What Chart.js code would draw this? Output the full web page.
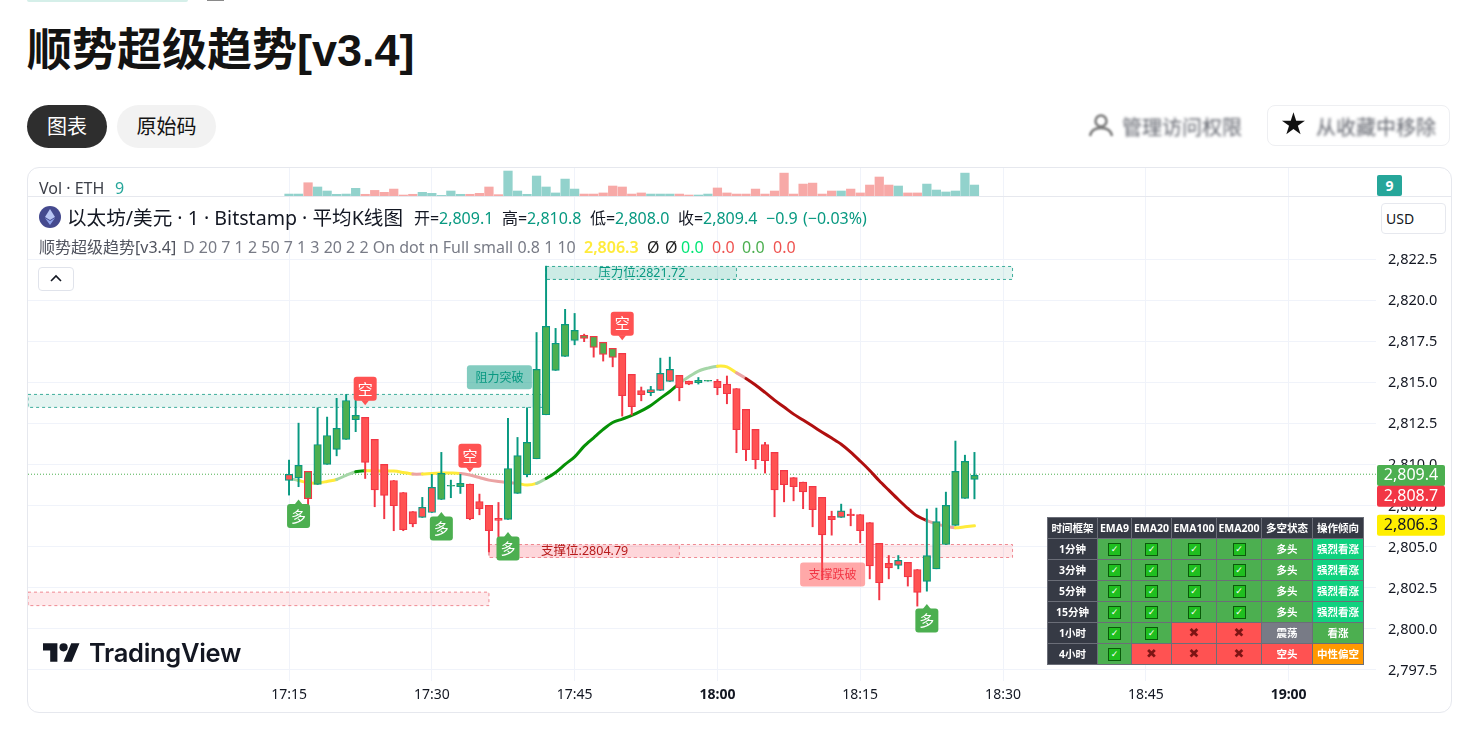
<!DOCTYPE html>
<html lang="zh">
<head>
<meta charset="utf-8">
<title>顺势超级趋势[v3.4]</title>
<script src="https://cdn.jsdelivr.net/npm/chart.js@4/dist/chart.umd.min.js"></script>
<style>
html, body { margin: 0; padding: 0; background: #fff; width: 1472px; height: 733px; overflow: hidden; }
body { position: relative; font-family: "Noto Sans", "Noto Sans CJK SC", sans-serif; color: #131722; }
.abs { position: absolute; white-space: nowrap; }
.pill { position: absolute; top: 105px; height: 43px; line-height: 44px; border-radius: 22px; text-align: center; font-size: 20px; }
.blurred { filter: blur(1.6px); color: #5f626b; font-size: 20px; }
#panel { position: absolute; left: 27px; top: 167px; width: 1423px; height: 544px; border: 1px solid #e6e8ee; border-radius: 12px; box-sizing: content-box; }
.row2 { font-size: 16px; line-height: 22px; top: 207px; }
.row3 { font-size: 16px; line-height: 20px; top: 237px; }
.teal { color: #089981; }
#signalTable { position: absolute; left: 1047px; top: 517px; border-collapse: collapse; table-layout: fixed; width: 316px; height: 146px; font-size: 10.5px; font-weight: 700; color: #fff; text-align: center; }
#signalTable td { border: 1px solid #6b6e78; padding: 0; height: 20px; line-height: 14px; overflow: hidden; }
.chk { display: inline-block; width: 11px; height: 11px; background: #1fbf1f; border: 1px solid #0a5a0a; color: #fff; font: 700 9px/11px "DejaVu Sans"; vertical-align: middle; }
.crs { color: #7d1414; font: 700 13px/14px "DejaVu Sans"; }
</style>
</head>
<body>
<div class="abs" style="left:27px;top:0;width:161px;height:2px;background:#d5efe9;border-radius:0 0 6px 6px"></div>
<div class="abs" style="left:207px;top:0;width:17px;height:1px;background:#8a8a8a"></div>
<div class="abs" style="left:27px;top:20px;font:700 45px/62px 'Liberation Sans','Noto Sans CJK SC';color:#131313">顺势超级趋势[v3.4]</div>
<div class="pill" style="left:27px;width:80px;background:#2e2e2e;color:#fff">图表</div>
<div class="pill" style="left:117px;width:99px;background:#f2f2f2;color:#131313">原始码</div>

<svg class="abs" style="left:1088px;top:114px;filter:blur(0.8px)" width="26" height="24" viewBox="0 0 26 24"><circle cx="13" cy="7" r="5.5" fill="none" stroke="#777" stroke-width="2.5"/><path d="M2 22c1-6 5-8 11-8s10 2 11 8" fill="none" stroke="#777" stroke-width="2.5"/></svg>
<div class="abs blurred" style="left:1122px;top:112px">管理访问权限</div>
<div class="abs" style="left:1267px;top:105px;width:183px;height:41px;border:1px solid #eeeff2;border-radius:8px;box-sizing:border-box"></div>
<div class="abs" style="left:1280px;top:106px;font:30px/36px 'DejaVu Sans';color:#111;filter:blur(0.7px)">★</div>
<div class="abs blurred" style="left:1316px;top:112px">从收藏中移除</div>

<div id="panel"></div>
<canvas id="volumeChart" class="abs" style="left:28px;top:168px;width:1423px;height:28px"></canvas>
<canvas id="priceChart" class="abs" style="left:28px;top:197px;width:1423px;height:514px"></canvas>
<div class="abs" style="left:28px;top:196px;width:1423px;height:1px;background:#e6e8ee"></div>

<div class="abs" style="left:39px;top:178px;font-size:16px;line-height:20px;color:#3c3f48">Vol · ETH</div>
<div class="abs" style="left:115px;top:178px;font-size:16px;line-height:20px;color:#26a69a">9</div>
<div class="abs" style="left:1377px;top:175px;width:25px;height:21px;background:#26a69a;color:#fff;font:700 14px/21px 'Noto Sans';text-align:center;border-radius:2px">9</div>

<svg class="abs" style="left:39px;top:206px" width="22" height="22" viewBox="0 0 22 22"><circle cx="11" cy="11" r="11" fill="#454a8f"/><path d="M11 3l5 8-5 3-5-3z" fill="#b9c6f5"/><path d="M11 15l5-3-5 7-5-7z" fill="#8fa3ea"/></svg>
<div class="abs" style="left:67px;top:205px;font-size:19.6px;line-height:25px;color:#131722">以太坊/美元 · 1 · Bitstamp · 平均K线图</div>
<div class="abs row2" style="left:414px">开=</div><div class="abs row2 teal" style="left:439px">2,809.1</div>
<div class="abs row2" style="left:502px">高=</div><div class="abs row2 teal" style="left:527px">2,810.8</div>
<div class="abs row2" style="left:590px">低=</div><div class="abs row2 teal" style="left:615px">2,808.0</div>
<div class="abs row2" style="left:678px">收=</div><div class="abs row2 teal" style="left:703px">2,809.4</div>
<div class="abs row2 teal" style="left:766px">−0.9</div><div class="abs row2 teal" style="left:803px">(−0.03%)</div>

<div class="abs row3" style="left:39px;color:#50535e">顺势超级趋势[v3.4]</div>
<div class="abs row3" style="left:183px;color:#787b86">D 20 7 1 2 50 7 1 3 20 2 2 On dot n Full small 0.8 1 10</div>
<div class="abs row3" style="left:584px;color:#ffeb3b;font-weight:600">2,806.3</div>
<div class="abs row3" style="left:647px;color:#222">Ø</div><div class="abs row3" style="left:665px;color:#222">Ø</div>
<div class="abs row3" style="left:681px;color:#00e676">0.0</div><div class="abs row3" style="left:712px;color:#ef5350">0.0</div>
<div class="abs row3" style="left:742px;color:#4caf50">0.0</div><div class="abs row3" style="left:773px;color:#ef5350">0.0</div>

<div class="abs" style="left:38px;top:267px;width:36px;height:24px;border:1px solid #e0e3eb;border-radius:4px;box-sizing:border-box;background:#fff">
  <svg width="34" height="22"><path d="M12 13l5-5 5 5" fill="none" stroke="#131722" stroke-width="1.6"/></svg>
</div>
<div class="abs" style="left:1381px;top:203px;width:65px;height:31px;border:1px solid #e6e8ee;border-radius:4px;box-sizing:border-box;background:#fff;font-size:14px;line-height:29px;padding-left:4px">USD</div>

<svg class="abs" style="left:43px;top:642px" width="37" height="22" viewBox="0 3 36 21"><path d="M14 22H7V11H0V4h14v18zM28 22h-8l7.5-18h8L28 22z" fill="#131722"/><circle cx="20" cy="8" r="4" fill="#131722"/></svg>
<div class="abs" style="left:89px;top:634px;font:600 25.5px/38px Inter;letter-spacing:-0.3px;color:#131722">TradingView</div>

<table id="signalTable"></table>

<script>
// chart data
const candleMinutes = [1035,1036,1037,1038,1039,1040,1041,1042,1043,1044,1045,1046,1047,1048,1049,1050,1051,1052,1053,1054,1055,1056,1057,1058,1059,1060,1061,1062,1063,1064,1065,1066,1067,1068,1069,1070,1071,1072,1073,1074,1075,1076,1077,1078,1079,1080,1081,1082,1083,1084,1085,1086,1087,1088,1089,1090,1091,1092,1093,1094,1095,1096,1097,1098,1099,1100,1101,1102,1103,1104,1105,1106,1107];
const candleOpen = [2809.02,2809.18,2809.57,2808.78,2810.0,2810.91,2811.52,2812.72,2812.86,2811.52,2810.0,2809.02,2808.29,2807.13,2806.77,2807.07,2807.86,2808.68,2808.64,2808.8,2807.74,2807.5,2806.71,2806.65,2808.23,2809.37,2810.34,2813.02,2815.72,2816.57,2817.55,2817.85,2817.79,2817.43,2817.06,2816.76,2815.48,2814.5,2814.36,2814.5,2815.05,2815.42,2815.07,2814.97,2815.07,2815.05,2814.89,2814.62,2813.35,2812.13,2811.21,2810.73,2809.63,2809.2,2808.92,2808.66,2807.99,2806.83,2806.77,2806.97,2806.95,2806.46,2805.19,2803.97,2803.85,2804.03,2803.6,2802.87,2803.64,2805.12,2806.28,2807.93,2809.09];
const candleHigh = [2810.26,2812.51,2809.57,2813.45,2812.88,2814.02,2814.26,2814.02,2812.86,2811.52,2810.0,2809.02,2808.29,2807.13,2807.99,2809.39,2810.73,2809.04,2809.39,2808.8,2808.19,2807.5,2807.68,2812.8,2811.64,2813.45,2818.03,2822.07,2818.28,2819.44,2819.19,2817.93,2817.79,2817.43,2817.06,2816.76,2815.48,2814.71,2814.75,2816.47,2816.53,2815.42,2815.07,2815.29,2815.11,2815.17,2815.38,2814.62,2813.35,2812.13,2811.34,2810.73,2809.63,2809.2,2808.92,2808.66,2807.99,2807.15,2807.58,2807.28,2806.95,2806.46,2805.19,2804.45,2804.45,2804.03,2803.6,2807.28,2807.34,2808.31,2811.42,2810.56,2810.73];
const candleLow = [2808.13,2808.64,2806.85,2808.78,2810.0,2810.52,2811.52,2811.99,2809.14,2807.42,2806.69,2805.96,2805.96,2806.2,2806.77,2807.07,2807.86,2807.97,2808.23,2806.63,2806.93,2804.66,2805.59,2806.65,2808.23,2809.24,2810.34,2813.02,2815.72,2816.57,2817.28,2817.47,2816.53,2816.29,2815.94,2812.94,2813.0,2813.87,2814.18,2814.5,2815.05,2813.87,2814.85,2814.89,2815.07,2814.24,2813.69,2810.71,2810.22,2809.73,2809.47,2806.81,2807.72,2807.78,2807.3,2806.2,2802.99,2805.69,2806.77,2806.26,2805.23,2803.03,2801.75,2803.03,2803.64,2802.59,2801.37,2802.28,2803.64,2805.12,2806.28,2807.93,2807.9];
const candleClose = [2809.39,2809.94,2807.91,2811.21,2811.76,2812.19,2813.89,2812.98,2810.12,2808.45,2808.11,2807.48,2806.02,2806.38,2807.38,2808.6,2809.45,2808.72,2808.84,2806.69,2807.3,2805.96,2806.59,2809.75,2810.54,2811.34,2815.78,2818.4,2817.37,2818.52,2818.16,2817.67,2817.12,2816.7,2816.51,2814.18,2813.51,2814.24,2814.56,2815.54,2815.78,2814.67,2814.89,2815.11,2815.11,2814.67,2814.3,2812.11,2810.89,2810.28,2810.22,2808.45,2808.76,2808.64,2808.33,2807.24,2805.71,2806.63,2807.17,2806.87,2805.96,2803.82,2802.79,2803.7,2804.15,2803.15,2802.2,2804.45,2806.52,2807.5,2809.57,2810.18,2809.33];
const candleFill = ['r','g','g','g','g','g','g','g','r','r','r','r','r','r','r','r','g','g','g','r','r','r','r','g','g','g','g','g','g','g','g','g','g','g','g','r','r','r','r','r','r','r','r','g','g','r','r','r','r','r','r','r','r','r','r','r','r','r','r','r','r','r','r','r','r','r','r','g','g','g','g','g','g'];

const volumeValues = [1.6,1.6,10.9,7.4,4.1,1.4,1.6,6.3,1.4,4.6,3,5.7,0.8,1.4,3,2.2,0.5,4.1,1.4,1.4,2.2,7.4,1.1,20.5,4.1,1.4,16.4,7.4,2.5,13.9,5.7,1.6,1.6,2.5,8.2,7.4,1.6,2.5,1.6,1.6,1.6,1.6,0.8,0.8,1.6,6.6,2.5,1.6,1.6,5.7,1.6,4.1,18.8,1.6,9.8,10.6,1.6,4.1,4.1,5.7,2.5,9,15.6,9,8.2,2.5,2.5,9.8,4.9,3.3,4.1,18.8,9];
const volumeUp = [1,1,0,1,1,1,1,1,0,0,0,0,0,0,1,1,1,1,1,0,0,0,0,1,1,1,1,1,1,1,1,0,0,0,0,0,0,0,1,1,1,0,0,1,1,0,0,0,0,0,0,0,0,0,0,0,0,0,1,0,0,0,0,0,1,0,0,1,1,1,1,1,1];

const trendValues = [2809.14,2809.02,2808.88,2808.86,2808.96,2809.08,2809.33,2809.55,2809.61,2809.61,2809.59,2809.59,2809.51,2809.41,2809.41,2809.45,2809.47,2809.47,2809.45,2809.35,2809.2,2809.04,2808.96,2808.9,2808.84,2808.74,2808.84,2809.14,2809.51,2810.0,2810.46,2811.11,2811.62,2812.13,2812.55,2812.76,2812.98,2813.26,2813.59,2814.02,2814.44,2814.93,2815.33,2815.68,2815.86,2815.98,2815.94,2815.58,2815.23,2814.83,2814.38,2813.91,2813.49,2813.06,2812.7,2812.33,2811.96,2811.6,2811.23,2810.75,2810.2,2809.63,2809.0,2808.43,2807.86,2807.32,2806.85,2806.57,2806.38,2806.24,2806.14,2806.2,2806.26];
// state of each segment between two neighbouring trend points
const trendState = ['pg','y','y','y','y','pg','pg','g','y','y','y','y','y','pr','y','y','y','y','pr','pr','pr','pr','pr','pr','y','y','pg','g','g','g','g','g','g','g','g','g','g','g','g','g','g','pg','pg','pg','pg','y','y','pr','r','r','r','r','r','r','r','r','r','r','r','r','r','r','r','r','r','r','r','pr','pr','pr','y','y'];

const priceTicks = [2797.5,2800,2802.5,2805,2807.5,2810,2812.5,2815,2817.5,2820,2822.5];
const timeTicks = [1035,1050,1065,1080,1095,1110,1125,1140];
const timeLabels = ['17:15','17:30','17:45','18:00','18:15','18:30','18:45','19:00'];
const boldTimes = ['18:00','19:00'];
const lastPrice = 2809.4;

// price zones
const zoneStart = [1062,1007.58,1007.58,1056];
const zoneEnd = [1111,1062,1056,1111];
const zoneDarkEnd = [1082,null,null,1076];
const zoneTop = [2822.05,2814.26,2802.22,2805.12];
const zoneBottom = [2821.26,2813.47,2801.4,2804.33];
const zoneKind = ['res','res','sup','sup'];
const zoneText = ['压力位:2821.72','','','支撑位:2804.79'];

// 多 / 空 signal flags
const signalMinute = [1036,1043,1051,1054,1058,1070,1102];
const signalPrice = [2806.85,2814.6,2806.1,2810.52,2804.88,2818.56,2800.5];
const signalText = ['多','空','多','空','多','空','多'];

const breakMinute = [1057.1,1092.1];
const breakPrice = [2815.3,2803.3];
const breakText = ['阻力突破','支撑跌破'];
const breakKind = ['res','sup'];

// tags on the price axis
const tagPrice = [2809.33,2808.7,2806.3];
const tagText = ['2,809.4','2,808.7','2,806.3'];
const tagOffset = [0,10.5,0];
const tagFill = ['#4caf50','#f23645','#ffee00'];
const tagInk = ['#fff','#fff','#131722'];

const tableHead = ['时间框架','EMA9','EMA20','EMA100','EMA200','多空状态','操作倾向'];
const tableFrames = ['1分钟','3分钟','5分钟','15分钟','1小时','4小时'];
const tableEma = [[1,1,1,1],[1,1,1,1],[1,1,1,1],[1,1,1,1],[1,1,0,0],[1,0,0,0]];
const tableState = ['多头','多头','多头','多头','震荡','空头'];
const tableAction = ['强烈看涨','强烈看涨','强烈看涨','强烈看涨','看涨','中性偏空'];

const UP = '#089981', DOWN = '#f23645', FILL_UP = '#4caf50', FILL_DOWN = '#ff5252';
const TREND_COLORS = { y: '#ffeb3b', g: '#069106', r: '#b00f0f', pg: '#a5d6a7', pr: '#eba3a3' };
const X_MIN = 1007.58, X_MAX = 1149.18;
const TICK_FONT = '"Noto Sans", sans-serif';

const isUp = candleOpen.map((o, i) => candleClose[i] >= o);
const candleInk = isUp.map(u => u ? UP : DOWN);

function timeLabel(value) {
    return timeLabels[timeTicks.indexOf(value)] || '';
}

// the plot area has to sit on fixed pixels, so no room is kept for half tick labels
function fixAxis(scale, size) {
    if (scale.isHorizontal()) {
        scale.height = size;
    } else {
        scale.width = size;
    }
    scale.paddingTop = scale.paddingBottom = scale.paddingLeft = scale.paddingRight = 0;
}

const overlays = {
    id: 'overlays',
    beforeDatasetsDraw(chart) {
        const { ctx, scales: { x, y } } = chart;
        ctx.save();
        zoneStart.forEach((start, i) => {
            const res = zoneKind[i] === 'res';
            const left = x.getPixelForValue(start), right = x.getPixelForValue(zoneEnd[i]);
            const top = y.getPixelForValue(zoneTop[i]), bottom = y.getPixelForValue(zoneBottom[i]);
            ctx.fillStyle = res ? 'rgba(8,153,129,0.11)' : 'rgba(242,54,69,0.11)';
            ctx.fillRect(left, top, right - left, bottom - top);
            ctx.strokeStyle = res ? '#3fae9c' : '#ef8a92';
            ctx.lineWidth = 1;
            ctx.setLineDash([3, 3]);
            ctx.strokeRect(left, top, right - left, bottom - top);
            if (zoneDarkEnd[i]) {
                const dark = x.getPixelForValue(zoneDarkEnd[i]);
                ctx.fillRect(left, top, dark - left, bottom - top);
                ctx.strokeRect(left, top, dark - left, bottom - top);
                ctx.setLineDash([]);
                ctx.fillStyle = res ? '#089981' : '#b71c1c';
                ctx.font = '12.5px "Noto Sans", "Noto Sans CJK SC"';
                ctx.textAlign = 'center';
                ctx.textBaseline = 'middle';
                ctx.fillText(zoneText[i], (left + dark) / 2 + 0.5, (top + bottom) / 2 + 0.5);
            }
            ctx.setLineDash([]);
        });
        ctx.restore();
    },
    afterDatasetsDraw(chart) {
        const { ctx, scales: { x, y } } = chart;
        ctx.save();
        ctx.textAlign = 'center';
        ctx.textBaseline = 'middle';

        breakMinute.forEach((m, i) => {
            const res = breakKind[i] === 'res';
            const cx = x.getPixelForValue(m), cy = y.getPixelForValue(breakPrice[i]);
            ctx.fillStyle = res ? 'rgba(8,153,129,0.5)' : 'rgba(255,82,82,0.5)';
            ctx.beginPath();
            ctx.roundRect(cx - 32.5, cy - 12, 65, 24, 3);
            ctx.fill();
            ctx.fillStyle = res ? '#089981' : '#f23645';
            ctx.font = '12px "Noto Sans CJK SC"';
            ctx.fillText(breakText[i], cx, cy);
        });

        signalMinute.forEach((m, i) => {
            const long = signalText[i] === '多';
            const cx = x.getPixelForValue(m), cy = y.getPixelForValue(signalPrice[i]);
            ctx.fillStyle = long ? '#4caf50' : '#ff5252';
            ctx.beginPath();
            ctx.roundRect(cx - 11.5, cy - 12, 23, 24, 3);
            ctx.fill();
            ctx.beginPath();
            const tip = long ? cy - 16.5 : cy + 16.5, base = long ? cy - 11.5 : cy + 11.5;
            ctx.moveTo(cx - 4, base);
            ctx.lineTo(cx, tip);
            ctx.lineTo(cx + 4, base);
            ctx.fill();
            ctx.fillStyle = '#fff';
            ctx.font = '15px "Noto Sans CJK SC"';
            ctx.fillText(signalText[i], cx, cy);
        });

        tagPrice.forEach((p, i) => {
            const cy = y.getPixelForValue(p) + tagOffset[i];
            ctx.fillStyle = tagFill[i];
            ctx.beginPath();
            ctx.roundRect(x.right + 1, cy - 10.5, 68, 21, 2);
            ctx.fill();
            ctx.fillStyle = tagInk[i];
            ctx.font = '16px ' + TICK_FONT;
            ctx.fillText(tagText[i], x.right + 35, cy + 0.5);
        });
        ctx.restore();
    }
};

new Chart(document.getElementById('priceChart'), {
    type: 'bar',
    plugins: [overlays],
    data: {
        datasets: [
            {
                type: 'bar',
                label: 'body',
                order: 1,
                grouped: false,
                barThickness: 7.5,
                borderSkipped: false,
                borderWidth: 1.2,
                data: candleMinutes.map((m, i) => ({ x: m, y: [candleOpen[i], candleClose[i]] })),
                backgroundColor: candleFill.map(c => c === 'g' ? FILL_UP : FILL_DOWN),
                borderColor: candleInk
            },
            {
                type: 'bar',
                label: 'wick',
                order: 2,
                grouped: false,
                barThickness: 1.3,
                borderWidth: 0,
                data: candleMinutes.map((m, i) => ({ x: m, y: [candleLow[i], candleHigh[i]] })),
                backgroundColor: candleInk
            },
            {
                type: 'line',
                label: 'trend',
                order: 3,
                data: candleMinutes.map((m, i) => ({ x: m, y: trendValues[i] })),
                borderWidth: 3,
                tension: 0.3,
                pointRadius: 0,
                borderCapStyle: 'round',
                borderColor: TREND_COLORS.y,
                segment: { borderColor: ctx => TREND_COLORS[trendState[ctx.p0DataIndex]] }
            },
            {
                type: 'line',
                label: 'last',
                order: 4,
                data: [{ x: X_MIN, y: lastPrice }, { x: X_MAX, y: lastPrice }],
                borderColor: '#4caf50',
                borderWidth: 1,
                borderDash: [1, 2],
                pointRadius: 0
            }
        ]
    },
    options: {
        responsive: false,
        animation: false,
        events: [],
        layout: { padding: 0 },
        plugins: { legend: { display: false }, tooltip: { enabled: false } },
        scales: {
            x: {
                type: 'linear',
                offset: false,
                min: X_MIN,
                max: X_MAX,
                grid: { color: '#f0f3fa', drawTicks: false, offset: false },
                border: { display: false },
                afterBuildTicks: s => { s.ticks = timeTicks.map(v => ({ value: v })); },
                afterFit: s => fixAxis(s, 30),
                ticks: {
                    autoSkip: false,
                    maxRotation: 0,
                    padding: 6,
                    color: '#131722',
                    callback: v => timeLabel(v),
                    font: ctx => ({
                        family: TICK_FONT,
                        size: 14,
                        weight: boldTimes.includes(timeLabel(ctx.tick && ctx.tick.value)) ? 'bold' : 'normal'
                    })
                }
            },
            y: {
                position: 'right',
                min: 2796.81,
                max: 2826.28,
                grid: { color: '#f0f3fa', drawTicks: false },
                border: { display: false },
                afterBuildTicks: s => { s.ticks = priceTicks.map(v => ({ value: v })); },
                afterFit: s => fixAxis(s, 75),
                ticks: {
                    autoSkip: false,
                    padding: 12,
                    labelOffset: 1,
                    color: '#131722',
                    font: { family: TICK_FONT, size: 14.5 },
                    callback: v => v.toLocaleString('en-US', { minimumFractionDigits: 1, maximumFractionDigits: 1 })
                }
            }
        }
    }
});

new Chart(document.getElementById('volumeChart'), {
    type: 'bar',
    data: {
        datasets: [{
            data: candleMinutes.map((m, i) => ({ x: m, y: volumeValues[i] })),
            barThickness: 8.6,
            borderWidth: 0,
            backgroundColor: volumeUp.map(u => u ? '#92d2cc' : '#f7a9a7')
        }]
    },
    options: {
        responsive: false,
        animation: false,
        events: [],
        layout: { padding: 0 },
        plugins: { legend: { display: false }, tooltip: { enabled: false } },
        scales: {
            x: {
                type: 'linear',
                offset: false,
                min: X_MIN,
                max: X_MAX,
                grid: { color: '#f0f3fa', drawTicks: false, offset: false },
                border: { display: false },
                afterBuildTicks: s => { s.ticks = timeTicks.map(v => ({ value: v })); },
                afterFit: s => fixAxis(s, 0),
                ticks: { display: false }
            },
            y: {
                position: 'right',
                min: 0,
                max: 23,
                grid: { display: false },
                border: { display: false },
                afterFit: s => fixAxis(s, 75),
                ticks: { display: false }
            }
        }
    }
});

// signal table in the lower right corner
function cell(content, bg) {
    return `<td style="background:${bg}">${content}</td>`;
}
const COLS = [50, 34, 40, 45, 45, 51, 51];
const actionColors = ['#0fd27f', '#0fd27f', '#0fd27f', '#0fd27f', '#4caf50', '#ff9800'];
const stateColors = { '多头': '#4caf50', '震荡': '#787b86', '空头': '#ff5252' };
let tableHtml = '<colgroup>' + COLS.map(w => `<col style="width:${w}px">`).join('') + '</colgroup>';
tableHtml += '<tr>' + tableHead.map(t => cell(t, '#363a45')).join('') + '</tr>';
tableFrames.forEach((frame, r) => {
    tableHtml += '<tr>' + cell(frame, '#363a45');
    tableEma[r].forEach(ok => {
        tableHtml += ok ? cell('<span class="chk">✓</span>', '#4caf50') : cell('<span class="crs">✖</span>', '#ff5252');
    });
    tableHtml += cell(tableState[r], stateColors[tableState[r]]) + cell(tableAction[r], actionColors[r]) + '</tr>';
});
document.getElementById('signalTable').innerHTML = tableHtml;
</script>
</body>
</html>
